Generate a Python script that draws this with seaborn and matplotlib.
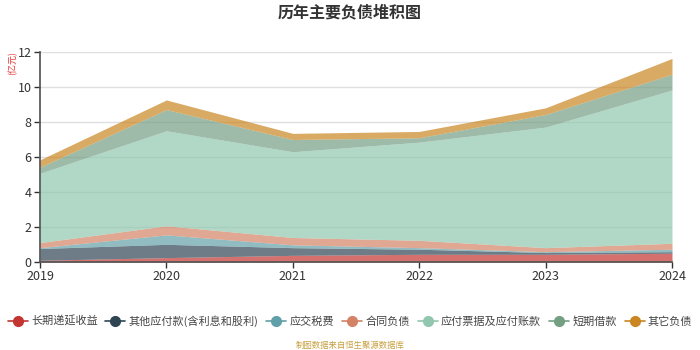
import matplotlib
matplotlib.use("Agg")
import matplotlib.pyplot as plt
from matplotlib.lines import Line2D
import seaborn as sns
import pandas as pd

years = [2019, 2020, 2021, 2022, 2023, 2024]
series_names = ["长期递延收益", "其他应付款(含利息和股利)", "应交税费", "合同负债",
                "应付票据及应付账款", "短期借款", "其它负债"]
deferred_income = [0.10, 0.25, 0.38, 0.44, 0.44, 0.50]
other_payables = [0.67, 0.76, 0.44, 0.29, 0.10, 0.09]
taxes_payable = [0.05, 0.54, 0.16, 0.09, 0.05, 0.14]
contract_liab = [0.29, 0.52, 0.42, 0.42, 0.23, 0.34]
notes_accounts = [3.96, 5.43, 4.90, 5.61, 6.89, 8.76]
short_loans = [0.35, 1.21, 0.70, 0.25, 0.72, 0.90]
other_liab = [0.42, 0.55, 0.35, 0.36, 0.38, 0.90]
colors = ["#c23531", "#2f4554", "#61a0a8", "#d48265", "#91c7ae", "#749f83", "#ca8622"]

df = pd.DataFrame({
    "year": years,
    series_names[0]: deferred_income,
    series_names[1]: other_payables,
    series_names[2]: taxes_payable,
    series_names[3]: contract_liab,
    series_names[4]: notes_accounts,
    series_names[5]: short_loans,
    series_names[6]: other_liab,
})

sns.set_theme(style="white")
plt.rcParams["font.family"] = ["Noto Sans CJK SC", "DejaVu Sans"]

fig = plt.figure(figsize=(7, 3.5), dpi=100)
ax = fig.add_axes([40 / 700, 1 - 262 / 350, 632 / 700, 210 / 350])

ax.stackplot(df["year"], *[df[n] for n in series_names], colors=colors,
             alpha=0.7, linewidth=0)

ax.set_xlim(2019, 2024)
ax.set_ylim(0, 12)
ax.set_xticks(years)
ax.set_xticklabels([str(y) for y in years])
ax.set_yticks(range(0, 13, 2))
ax.yaxis.grid(True, color="#e0e0e0", linewidth=1)
ax.set_axisbelow(True)
for side in ["top", "right"]:
    ax.spines[side].set_visible(False)
ax.spines["left"].set_color("#555555")
ax.spines["bottom"].set_color("#555555")
ax.tick_params(axis="both", colors="#333333", labelsize=9, length=4, width=1,
               direction="out", bottom=True, left=True, pad=2)
ax.set_xlabel("")
ax.set_ylabel("")

fig.text(0.5, 1 - 12 / 350, "历年主要负债堆积图", ha="center", va="center",
         fontsize=11.5, fontweight="bold", color="#333333")
fig.text(13 / 700, 1 - 63 / 350, "(亿元)", ha="center", va="center",
         rotation=90, fontsize=6.5, color="#e83030")

handles = [Line2D([0], [0], color=c, marker="o", markersize=7, linewidth=1.2)
           for c in colors]
leg = fig.legend(handles, series_names, loc="center", ncol=7,
                 bbox_to_anchor=(0.5, 1 - 321 / 350), frameon=False,
                 fontsize=8, handlelength=1.8, handletextpad=0.3,
                 columnspacing=0.7, borderpad=0.2, borderaxespad=0)
for t in leg.get_texts():
    t.set_color("#444444")

fig.text(0.5, 1 - 345 / 350, "制图数据来自恒生聚源数据库", ha="center",
         va="center", fontsize=6, color="#c8a040")

fig.savefig("out.png", dpi=100)
